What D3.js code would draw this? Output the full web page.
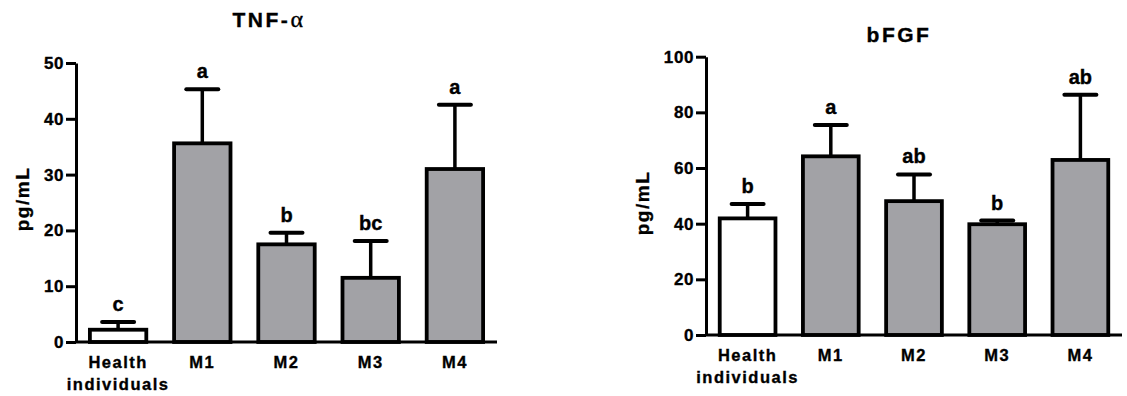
<!DOCTYPE html>
<html>
    <head>
        <meta charset="utf-8">
        <style>
        html, body {
            margin: 0px;
            background: #fff;
        }
        svg text {
            font-family: "Liberation Sans", Arial, sans-serif;
            font-weight: bold;
            fill: #000;
            stroke: #000;
            stroke-width: 0.35px;
        }
        .axis path,
        .axis line {
            fill: none;
            stroke: #000;
            stroke-width: 3px;
        }
        .axis text {
            font-size: 17px;
            letter-spacing: 0.6px;
        }
        .xaxis text {
            font-size: 16.5px;
            letter-spacing: 1.5px;
        }
        </style>
    </head>
    <body>
        <svg class="chart" width="1127" height="396"></svg>
        <script src="https://d3js.org/d3.v7.min.js"></script>
        <script>
            // groups (second line of the first label goes under it)
            var categories = ["Health\nindividuals", "M1", "M2", "M3", "M4"];

            // TNF-alpha panel
            var tnfMean    = [2.2, 35.6, 17.5, 11.5, 31.0];
            var tnfErr     = [1.4, 9.7, 2.1, 6.6, 11.5];
            var tnfLetters = ["c", "a", "b", "bc", "a"];
            var tnfTicks   = [0, 10, 20, 30, 40, 50];

            // bFGF panel
            var bfgfMean    = [41.9, 64.2, 48.1, 39.8, 62.9];
            var bfgfErr     = [5.2, 11.3, 9.6, 1.3, 23.4];
            var bfgfLetters = ["b", "a", "ab", "b", "ab"];
            var bfgfTicks   = [0, 20, 40, 60, 80, 100];

            var svg = d3.select(".chart");

            function drawPanel(opt) {
                var x = d3.scaleBand()
                    .domain(categories)
                    .range([opt.left, opt.right])
                    .paddingInner(0.33)
                    .paddingOuter(0.165);
                var y = d3.scaleLinear()
                    .domain([0, d3.max(opt.ticks)])
                    .range([opt.bottom, opt.top]);

                var g = svg.append("g");

                var rows = categories.map(function(c, i) {
                    return {cat: c, mean: opt.mean[i], err: opt.err[i], letter: opt.letters[i], idx: i};
                });

                // error bars (upper only)
                var eb = g.selectAll(".err").data(rows).enter().append("g").attr("class", "err");
                eb.append("line")
                  .attr("x1", function(d) { return x(d.cat) + x.bandwidth() / 2; })
                  .attr("x2", function(d) { return x(d.cat) + x.bandwidth() / 2; })
                  .attr("y1", function(d) { return y(d.mean); })
                  .attr("y2", function(d) { return y(d.mean + d.err); })
                  .attr("stroke", "#000").attr("stroke-width", 3.5);
                eb.append("line")
                  .attr("x1", function(d) { return x(d.cat) + x.bandwidth() / 2 - 16; })
                  .attr("x2", function(d) { return x(d.cat) + x.bandwidth() / 2 + 16; })
                  .attr("y1", function(d) { return y(d.mean + d.err); })
                  .attr("y2", function(d) { return y(d.mean + d.err); })
                  .attr("stroke", "#000").attr("stroke-width", 4)
                  .attr("stroke-linecap", "round");

                // bars
                g.selectAll(".bar").data(rows).enter().append("rect")
                  .attr("class", "bar")
                  .attr("x", function(d) { return x(d.cat); })
                  .attr("width", x.bandwidth())
                  .attr("y", function(d) { return y(d.mean); })
                  .attr("height", function(d) { return y(0) - y(d.mean); })
                  .attr("fill", function(d) { return d.idx === 0 ? "#fff" : "#a2a2a6"; })
                  .attr("stroke", "#000")
                  .attr("stroke-width", 3.8);

                // significance letters
                g.selectAll(".letter").data(rows).enter().append("text")
                  .attr("class", "letter")
                  .attr("x", function(d) { return x(d.cat) + x.bandwidth() / 2; })
                  .attr("y", function(d) { return y(d.mean + d.err) - 11; })
                  .attr("text-anchor", "middle")
                  .style("font-size", "20px")
                  .text(function(d) { return d.letter; });

                // y axis
                g.append("g")
                  .attr("class", "axis")
                  .attr("transform", "translate(" + opt.left + ",0)")
                  .call(d3.axisLeft(y).tickValues(opt.ticks).tickSize(10).tickSizeOuter(0).tickPadding(2));

                // x axis
                var xa = g.append("g")
                  .attr("class", "axis xaxis")
                  .attr("transform", "translate(0," + opt.bottom + ")")
                  .call(d3.axisBottom(x).tickSize(0).tickSizeOuter(0).tickFormat(""));
                xa.select(".domain").attr("d", "M" + opt.left + ",0H" + opt.right);
                xa.selectAll(".tick text").remove();
                xa.selectAll(".tick").append("text")
                  .attr("text-anchor", "middle")
                  .each(function(d) {
                      var lines = d.split("\n");
                      var t = d3.select(this);
                      lines.forEach(function(s, i) {
                          t.append("tspan").attr("x", 0).attr("y", 26 + i * 22).text(s);
                      });
                  });

                // y axis title
                g.append("text")
                  .attr("transform", "translate(" + opt.ylabX + "," + opt.ylabY + ") rotate(-90)")
                  .attr("text-anchor", "middle")
                  .attr("dy", "0.35em")
                  .style("font-size", "19px")
                  .style("letter-spacing", "1.5px")
                  .text("pg/mL");

                // panel title
                var title = g.append("text")
                  .attr("x", opt.titleX)
                  .attr("y", opt.titleY)
                  .attr("text-anchor", "middle")
                  .style("font-size", "21px")
                  .style("letter-spacing", "2.5px");
                title.append("tspan").text(opt.title);
                if (opt.titleGreek) {
                    title.append("tspan")
                      .style("font-family", "'Liberation Serif', 'DejaVu Serif', serif")
                      .style("font-weight", "normal")
                      .style("font-size", "24px")
                      .text(opt.titleGreek);
                }
            }

            drawPanel({
                mean: tnfMean, err: tnfErr, letters: tnfLetters, ticks: tnfTicks,
                left: 76, right: 497, top: 63, bottom: 342,
                title: "TNF-", titleGreek: "\u03B1", titleX: 269, titleY: 27,
                ylabX: 22, ylabY: 199
            });

            drawPanel({
                mean: bfgfMean, err: bfgfErr, letters: bfgfLetters, ticks: bfgfTicks,
                left: 706, right: 1122, top: 56.7, bottom: 335,
                title: "bFGF", titleGreek: null, titleX: 899, titleY: 42,
                ylabX: 642, ylabY: 203
            });
        </script>
    </body>
</html>
